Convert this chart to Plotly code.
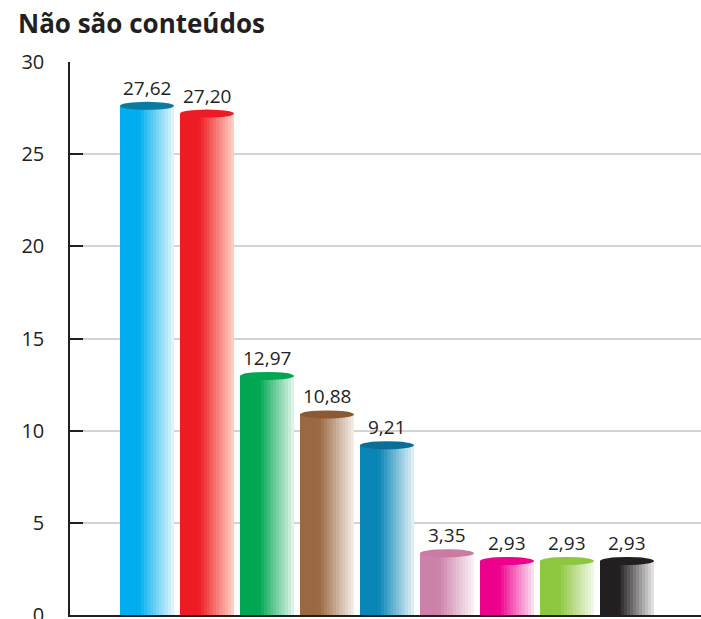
import plotly.graph_objects as go

# ---- data ----
categories = ["A", "B", "C", "D", "E", "F", "G", "H", "I"]
values = [27.62, 27.20, 12.97, 10.88, 9.21, 3.35, 2.93, 2.93, 2.93]
value_labels = ["27,62", "27,20", "12,97", "10,88", "9,21", "3,35", "2,93", "2,93", "2,93"]
body_colors = ["#00AEEF", "#ED1C24", "#00A651", "#9A6841", "#0A86B6",
               "#CC82A8", "#EC008C", "#8DC63F", "#231F20"]
light_colors = ["#FFFFFF", "#FFE9D8", "#FFFFFF", "#FFFFFF", "#FFFFFF",
                "#FFFFFF", "#FFFFFF", "#FFFFFF", "#FFFFFF"]
cap_colors = ["#0B7AA0", "#ED1C24", "#00A651", "#8A5A34", "#0A6E96",
              "#C97BA2", "#EC008C", "#8DC63F", "#231F20"]
y_ticks = [0, 5, 10, 15, 20, 25, 30]
title_text = "Não são conteúdos"


def hex_to_rgb(h):
    h = h.lstrip("#")
    return tuple(int(h[i:i + 2], 16) for i in (0, 2, 4))


def blend(h, e, t):
    r, g, b = hex_to_rgb(h)
    R, G, B = hex_to_rgb(e)
    return "rgb(%d,%d,%d)" % (round(r + (R - r) * t), round(g + (G - g) * t), round(b + (B - b) * t))


xs = list(range(len(categories)))
BAR_W = 0.9
N = 18
SOLID = 0.35
MAXT = 0.9

fig = go.Figure()
for k in range(N):
    frac = (k + 0.5) / N
    t = 0.0 if frac < SOLID else (frac - SOLID) / (1 - SOLID) * MAXT
    fig.add_trace(go.Bar(
        x=xs, y=values,
        width=BAR_W / N + 0.002,
        offset=-BAR_W / 2 + k * BAR_W / N,
        marker=dict(color=[blend(c, e, t) for c, e in zip(body_colors, light_colors)], line=dict(width=0)),
        hoverinfo="skip", showlegend=False,
    ))

shapes = []
annotations = []
for i, v in enumerate(values):
    shapes.append(dict(
        type="circle", xref="x", yref="y", xsizemode="scaled", ysizemode="pixel",
        x0=i - BAR_W / 2, x1=i + BAR_W / 2, yanchor=v, y0=-4, y1=4,
        fillcolor=cap_colors[i], line=dict(width=0), layer="above",
    ))
    annotations.append(dict(
        x=i, y=v, xref="x", yref="y", text=value_labels[i], showarrow=False,
        yanchor="bottom", yshift=3, font=dict(size=19, color="#231F20", family="Open Sans"),
    ))

W, H = 701, 619
fig.update_layout(
    width=W, height=H,
    margin=dict(l=70, r=0, t=62, b=4),
    paper_bgcolor="white", plot_bgcolor="white",
    barmode="overlay", bargap=0,
    showlegend=False,
    font=dict(family="Open Sans", color="#231F20"),
    title=dict(text="<b>" + title_text + "</b>", x=18 / W, xref="container", xanchor="left",
               y=1 - 24 / H, yref="container", yanchor="middle", automargin=False,
               font=dict(size=26, color="#231F20", family="Open Sans")),
    xaxis=dict(range=[-1.283, 9.233], showticklabels=False, showgrid=False, zeroline=False,
               showline=True, linecolor="#231F20", linewidth=1.5, ticks="", automargin=False),
    yaxis=dict(range=[0, 30], tickvals=y_ticks, ticktext=[str(t) for t in y_ticks],
               ticks="inside", ticklen=13, tickwidth=1.5, tickcolor="#231F20",
               showline=True, linecolor="#231F20", linewidth=1.5,
               showgrid=True, gridcolor="#D3D3D3", gridwidth=1.5, zeroline=False,
               ticklabelstandoff=20, ticklabeloverflow="allow", automargin=False,
               tickfont=dict(size=20, color="#231F20", family="Open Sans")),
    shapes=shapes, annotations=annotations,
)

fig.write_html("out.html", config={"displayModeBar": False},
               post_script="document.body.style.margin='0';document.body.style.overflow='hidden';")
